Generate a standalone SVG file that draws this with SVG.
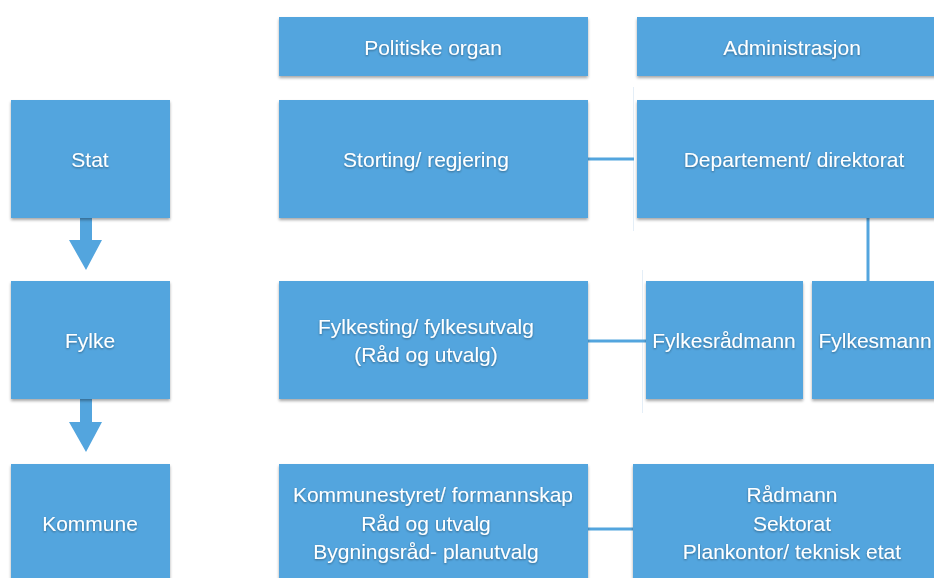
<svg xmlns="http://www.w3.org/2000/svg" width="934" height="578" viewBox="0 0 934 578">
<defs>
<filter id="sh" x="-10%" y="-10%" width="120%" height="130%">
<feGaussianBlur in="SourceAlpha" stdDeviation="1.5"/>
<feOffset dy="2" result="b"/>
<feComponentTransfer><feFuncA type="linear" slope="0.35"/></feComponentTransfer>
<feMerge><feMergeNode/><feMergeNode in="SourceGraphic"/></feMerge>
</filter>
<filter id="ts" x="-10%" y="-30%" width="120%" height="160%">
<feGaussianBlur in="SourceAlpha" stdDeviation="1"/>
<feOffset dy="1"/>
<feComponentTransfer><feFuncA type="linear" slope="0.4"/></feComponentTransfer>
<feMerge><feMergeNode/><feMergeNode in="SourceGraphic"/></feMerge>
</filter>
</defs>
<style>
.b{fill:#53a5de;filter:url(#sh)}
.t{fill:#fff;font-family:"Liberation Sans",Arial,sans-serif;font-size:21px;text-anchor:middle;filter:url(#ts)}
.c{stroke:#53a5de;stroke-width:3;fill:none}
.f{stroke:#e4eef7;stroke-width:1;fill:none}
</style>
<rect width="934" height="578" fill="#fff"/>
<g id="faint">
<line class="f" x1="633.5" y1="87" x2="633.5" y2="231"/>
<line class="f" x1="642.5" y1="270" x2="642.5" y2="413"/>
</g>
<g id="connectors">
<line class="c" x1="583" y1="159" x2="634" y2="159"/>
<line class="c" x1="583" y1="341" x2="646" y2="341"/>
<line class="c" x1="583" y1="529" x2="634" y2="529"/>
<line class="c" x1="868" y1="218" x2="868" y2="281"/>
<path d="M80 218 H92 V240 H102 L86 270 L69 240 H80 Z" fill="#53a5de"/>
<path d="M80 399 H92 V422 H102 L86 452 L69 422 H80 Z" fill="#53a5de"/>
</g>
<g id="politiske"><rect class="b" x="279" y="17" width="309" height="59"/><text class="t" x="433" y="55">Politiske organ</text></g>
<g id="administrasjon"><rect class="b" x="637" y="17" width="310" height="59"/><text class="t" x="792" y="55">Administrasjon</text></g>
<g id="stat"><rect class="b" x="11" y="100" width="159" height="118"/><text class="t" x="90" y="167">Stat</text></g>
<g id="storting"><rect class="b" x="279" y="100" width="309" height="118"/><text class="t" x="426" y="167">Storting/ regjering</text></g>
<g id="departement"><rect class="b" x="637" y="100" width="310" height="118"/><text class="t" x="794" y="167">Departement/ direktorat</text></g>
<g id="fylke"><rect class="b" x="11" y="281" width="159" height="118"/><text class="t" x="90" y="348">Fylke</text></g>
<g id="fylkesting"><rect class="b" x="279" y="281" width="309" height="118"/><text class="t" x="426" y="334">Fylkesting/ fylkesutvalg</text><text class="t" x="426" y="362">(Råd og utvalg)</text></g>
<g id="fylkesradmann"><rect class="b" x="646" y="281" width="157" height="118"/><text class="t" x="724" y="348">Fylkesrådmann</text></g>
<g id="fylkesmann"><rect class="b" x="812" y="281" width="140" height="118"/><text class="t" x="875" y="348">Fylkesmann</text></g>
<g id="kommune"><rect class="b" x="11" y="464" width="159" height="130"/><text class="t" x="90" y="531">Kommune</text></g>
<g id="kommunestyret"><rect class="b" x="279" y="464" width="309" height="130"/><text class="t" x="433" y="502">Kommunestyret/ formannskap</text><text class="t" x="426" y="531">Råd og utvalg</text><text class="t" x="426" y="559">Bygningsråd- planutvalg</text></g>
<g id="radmann"><rect class="b" x="633" y="464" width="314" height="130"/><text class="t" x="792" y="502">Rådmann</text><text class="t" x="792" y="531">Sektorat</text><text class="t" x="792" y="559">Plankontor/ teknisk etat</text></g>
</svg>
